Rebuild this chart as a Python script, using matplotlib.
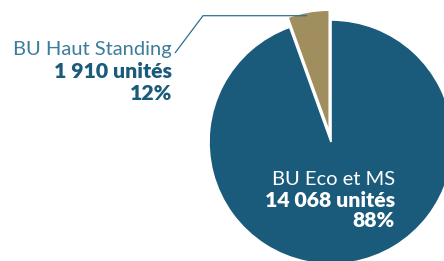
import matplotlib
matplotlib.use("Agg")
import matplotlib.pyplot as plt

# Data
labels = ["BU Haut Standing", "BU Eco et MS"]
units_text = ["1 910 unités", "14 068 unités"]
pct_text = ["12%", "88%"]
slice_share = [5.5, 94.5]   # angular share as drawn in the picture
colors = ["#a08e5f", "#1a5b7b"]

W, H = 444, 261
fig = plt.figure(figsize=(W / 100, H / 100), dpi=100)
ax = fig.add_axes([0, 0, 1, 1])

cx, cy, r = 331, H - 142, 122
ax.pie(slice_share, colors=colors, startangle=90, counterclock=True,
       center=(cx, cy), radius=r, explode=[10, 0],
       wedgeprops=dict(edgecolor="white", linewidth=1.2), frame=True)
ax.set_xlim(0, W)
ax.set_ylim(0, H)
ax.set_aspect("equal")
ax.axis("off")

# leader line
ax.plot([307, 203, 175], [H - 15.7, H - 15.7, H - 53], color="#2f6f90", lw=0.9,
        solid_capstyle="butt")

fam = ["Lato", "DejaVu Sans"]
lc = "#3d7c9b"
dc = "#1a5b7b"
fs_r, fs_b = 14.5, 15.3
ax.text(172, H - 55, labels[0], ha="right", va="baseline", fontsize=fs_r,
        color=lc, family=fam, fontweight="normal")
ax.text(172, H - 78, units_text[0], ha="right", va="baseline", fontsize=fs_b,
        color=dc, family=fam, fontweight="heavy")
ax.text(172, H - 100, pct_text[0], ha="right", va="baseline", fontsize=fs_b,
        color=dc, family=fam, fontweight="heavy")

ax.text(395, H - 185, labels[1], ha="right", va="baseline", fontsize=fs_r,
        color="white", family=fam, fontweight="normal")
ax.text(395, H - 207, units_text[1], ha="right", va="baseline", fontsize=fs_b,
        color="white", family=fam, fontweight="heavy")
ax.text(395, H - 227, pct_text[1], ha="right", va="baseline", fontsize=fs_b,
        color="white", family=fam, fontweight="heavy")

fig.savefig("out.png", dpi=100)
